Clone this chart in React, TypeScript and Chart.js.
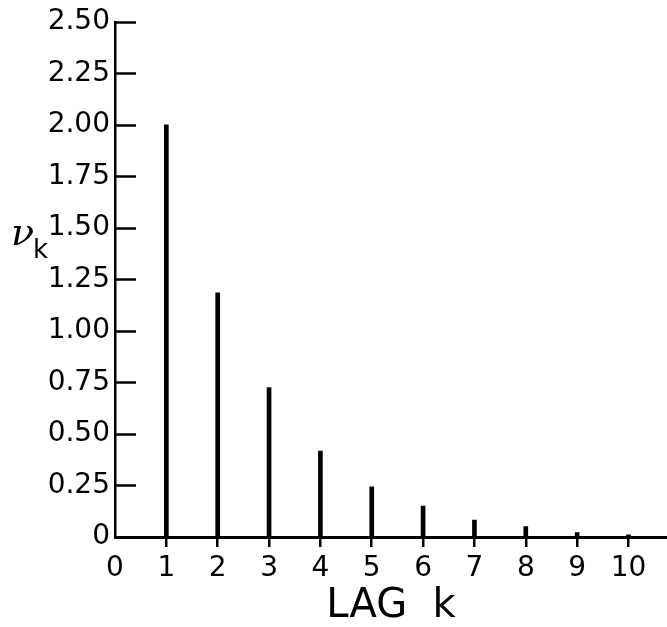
import React, { useEffect, useRef } from "react";
import { Chart, registerables } from "chart.js";

Chart.register(...registerables);

const lags = [1, 2, 3, 4, 5, 6, 7, 8, 9, 10];
const nuValues = [2.0, 1.185, 0.725, 0.417, 0.243, 0.15, 0.082, 0.05, 0.021, 0.01];
const yTickValues = [0, 0.25, 0.5, 0.75, 1.0, 1.25, 1.5, 1.75, 2.0, 2.25, 2.5];
const xTickValues = [0, 1, 2, 3, 4, 5, 6, 7, 8, 9, 10];
const xTitle = "LAG  k";
const yTitleMain = "ν";
const yTitleSub = "k";

const innerTicksPlugin = {
  id: "innerTicks",
  afterDraw(chart: any) {
    const { ctx, chartArea } = chart;
    const ys = chart.scales.y;
    ctx.save();
    ctx.strokeStyle = "#000";
    ctx.lineWidth = 2.5;
    ys.ticks.forEach((t: any) => {
      if (t.value === 0) return;
      const py = Math.round(ys.getPixelForValue(t.value)) + 0.5;
      ctx.beginPath();
      ctx.moveTo(chartArea.left, py);
      ctx.lineTo(chartArea.left + 21, py);
      ctx.stroke();
    });
    // y axis label: nu with subscript k
    ctx.fillStyle = "#000";
    ctx.textAlign = "left";
    ctx.textBaseline = "alphabetic";
    ctx.font = "italic 38px 'DejaVu Serif'";
    ctx.fillText(yTitleMain, 11, 245);
    ctx.font = "26px 'DejaVu Sans'";
    ctx.fillText(yTitleSub, 33, 258);
    ctx.restore();
  },
};

export default function App() {
  const ref = useRef<HTMLCanvasElement | null>(null);
  useEffect(() => {
    if (!ref.current) return;
    Chart.defaults.font.family = "'DejaVu Sans'";
    Chart.defaults.color = "#000";
    const chart = new Chart(ref.current, {
      type: "bar",
      data: {
        datasets: [
          {
            data: lags.map((k, i) => ({ x: k, y: nuValues[i] })),
            backgroundColor: "#000",
            borderWidth: 0,
            barThickness: 4,
          },
        ],
      },
      options: {
        responsive: false,
        animation: false,
        layout: { padding: { top: 20, left: 0, right: 0, bottom: 0 } },
        plugins: {
          legend: { display: false },
          tooltip: { enabled: false },
          title: { display: false },
        },
        scales: {
          x: {
            type: "linear",
            min: 0,
            max: 10.75,
            offset: false,
            afterFit: (s: any) => {
              s.height = 90;
            },
            afterBuildTicks: (s: any) => {
              s.ticks = xTickValues.map((v) => ({ value: v }));
            },
            ticks: {
              padding: 5,
              font: { size: 28 },
              color: "#000",
              callback: (v: any) => String(v),
              maxRotation: 0,
              autoSkip: false,
            },
            grid: {
              display: true,
              offset: false,
              drawOnChartArea: false,
              drawTicks: true,
              tickLength: 10,
              lineWidth: 2.5,
              tickColor: (c: any) => (c.tick && c.tick.value === 0 ? "rgba(0,0,0,0)" : "#000"),
            },
            border: { display: true, color: "#000", width: 3 },
            title: {
              display: true,
              text: xTitle,
              color: "#000",
              font: { size: 40, lineHeight: 1 },
              padding: { top: 0, bottom: 0 },
            },
          },
          y: {
            type: "linear",
            min: 0,
            max: 2.5,
            afterFit: (s: any) => {
              s.width = 115;
            },
            afterBuildTicks: (s: any) => {
              s.ticks = yTickValues.map((v) => ({ value: v }));
            },
            ticks: {
              padding: 5,
              font: { size: 28 },
              color: "#000",
              callback: (v: any) => (Number(v) === 0 ? "0" : Number(v).toFixed(2)),
              autoSkip: false,
            },
            grid: { display: false, drawTicks: false },
            border: { display: true, color: "#000", width: 2.5 },
          },
        },
      },
      plugins: [innerTicksPlugin],
    });
    return () => chart.destroy();
  }, []);
  return (
    <div style={{ position: "absolute", left: 0, top: 0, width: 667, height: 627, background: "#fff" }}>
      <canvas ref={ref} width={667} height={627} />
    </div>
  );
}
